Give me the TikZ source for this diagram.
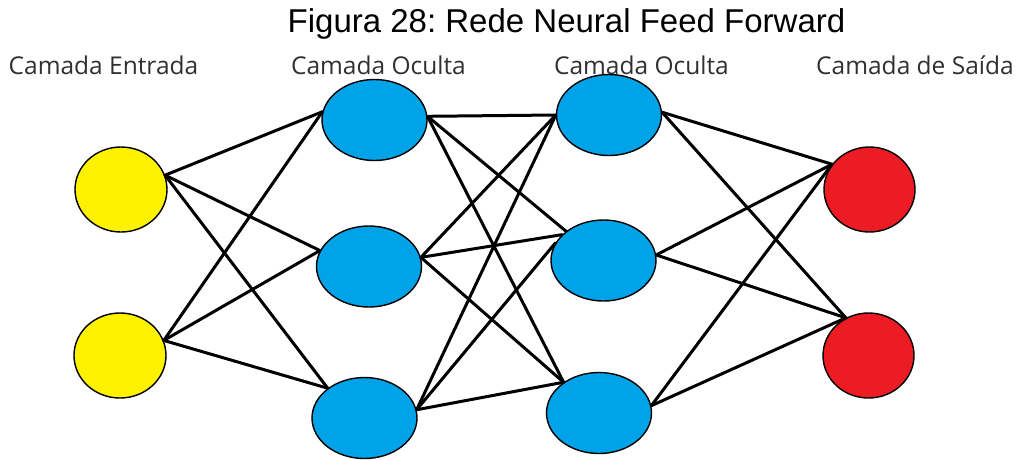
\documentclass[tikz,border=0pt]{standalone}
\usepackage{fontspec}
\setmainfont{Liberation Sans}
\newfontfamily\labelfont{Open Sans}
\usetikzlibrary{shapes.geometric}
\definecolor{inyellow}{HTML}{FFF200}
\definecolor{hidblue}{HTML}{00A2E8}
\definecolor{outred}{HTML}{ED1C24}
\definecolor{labelgrey}{HTML}{303030}
\frenchspacing
\begin{document}
\begin{tikzpicture}[x=1pt,y=-1pt,
  neuron/.style={ellipse, draw=black, line width=1.4pt, inner sep=0pt},
  inputn/.style={neuron, fill=inyellow, minimum width=92pt, minimum height=85pt},
  hiddenn/.style={neuron, fill=hidblue, minimum width=105pt, minimum height=81pt},
  outputn/.style={neuron, fill=outred, minimum width=91pt, minimum height=85pt},
  link/.style={line width=3pt, line cap=round},
  layerlabel/.style={anchor=base, inner sep=0pt, text=labelgrey,
    font=\labelfont\fontsize{24.5}{29}\selectfont},
]
\useasboundingbox (0,0) rectangle (1019,459);

% title
\node[anchor=base, inner sep=0pt, font=\fontsize{33}{40}\selectfont] (title)
  at (566.5,32) {Figura 28: Rede Neural Feed Forward};

% layer captions
\node[layerlabel] (lin)  at (103.5,74) {Camada Entrada};
\node[layerlabel] (lh1)  at (378.5,74) {Camada Oculta};
\node[layerlabel] (lh2)  at (641.5,74) {Camada Oculta};
\node[layerlabel] (lout) at (915,74)   {Camada de Saída};

% input layer
\node[inputn] (y1) at (121,189.5) {};
\node[inputn] (y2) at (120,355.5) {};

% first hidden layer
\node[hiddenn] (b1a) at (374.5,120) {};
\node[hiddenn] (b1b) at (369,266.5) {};
\node[hiddenn] (b1c) at (364.5,418) {};

% second hidden layer
\node[hiddenn] (b2a) at (609,115) {};
\node[hiddenn] (b2b) at (603.5,260.5) {};
\node[hiddenn] (b2c) at (599,413) {};

% output layer
\node[outputn] (r1) at (869.5,189.5) {};
\node[outputn] (r2) at (868.5,355.5) {};

% input -> hidden 1
\draw[link] (y1.18) -- (b1a.171);
\draw[link] (y1.18) -- (b1b.162);
\draw[link] (y1.18) -- (b1c.141);
\draw[link] (y2.19) -- (b1a.171);
\draw[link] (y2.19) -- (b1b.162);
\draw[link] (y2.19) -- (b1c.141);

% hidden 1 -> hidden 2
\draw[link] (b1a.4)  -- (b2a.180);
\draw[link] (b1a.4)  -- (b2b.142);
\draw[link] (b1a.4)  -- (b2c.139);
\draw[link] (b1b.10) -- (b2a.180);
\draw[link] (b1b.10) -- (b2b.148);
\draw[link] (b1b.10) -- (b2c.139);
\draw[link] (b1c.9)  -- (b2a.180);
\draw[link] (b1c.9)  -- (b2b.160);
\draw[link] (b1c.9)  -- (b2c.139);

% hidden 2 -> output
\draw[link] (b2a.3) -- (r1.146);
\draw[link] (b2a.3) -- (r2.121);
\draw[link] (b2b.6) -- (r1.146);
\draw[link] (b2b.6) -- (r2.121);
\draw[link] (b2c.8) -- (r1.146);
\draw[link] (b2c.8) -- (r2.121);
\end{tikzpicture}
\end{document}
